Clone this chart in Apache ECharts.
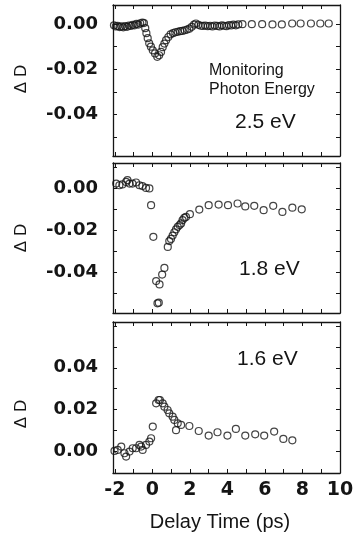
<!DOCTYPE html>
<html>
<head>
<meta charset="utf-8">
<script src="https://cdn.jsdelivr.net/npm/echarts@6/dist/echarts.min.js"></script>
<style>
  html, body { margin: 0; padding: 0; background: #fff; }
  #chart { width: 359px; height: 537px; }
</style>
</head>
<body>
<div id="chart"></div>
<script>
// delay time (ps) and ΔD for each monitoring photon energy
const t25 = [-2.05, -1.95, -1.85, -1.75, -1.65, -1.55, -1.45, -1.35, -1.25, -1.15, -1.05, -0.95, -0.85, -0.75, -0.65, -0.53, -0.45,
  -0.38, -0.32, -0.25, -0.17, -0.08, 0.02, 0.14, 0.26, 0.36, 0.46, 0.55, 0.64, 0.73, 0.85, 0.97, 1.10, 1.22, 1.35, 1.48, 1.60,
  1.72, 1.85, 1.97, 2.10, 2.22, 2.32, 2.45, 2.58, 2.70, 2.82, 2.95, 3.08, 3.20, 3.32, 3.45, 3.58, 3.70, 3.82, 3.95, 4.08, 4.20,
  4.32, 4.45, 4.58, 4.8, 5.3, 5.85, 6.4, 6.9, 7.45, 7.9, 8.45, 8.95, 9.4]
const d25 = [-0.0005, -0.0010, -0.0008, -0.0013, -0.0010, -0.0014, -0.0009, -0.0012, -0.0006, -0.0008, -0.0003, -0.0005, 0.0001, -0.0002, 0.0004, 0.0007, 0.0005,
  -0.0018, -0.0040, -0.0062, -0.0085, -0.0100, -0.0116, -0.0130, -0.0145, -0.0138, -0.0123, -0.0102, -0.0086, -0.0071, -0.0057, -0.0045, -0.0040, -0.0036, -0.0034, -0.0031, -0.0030,
  -0.0027, -0.0024, -0.0020, -0.0012, -0.0002, 0.0003, -0.0003, -0.0007, -0.0008, -0.0006, -0.0009, -0.0007, -0.0010, -0.0006, -0.0008, -0.0010, -0.0005, -0.0007, -0.0009, -0.0004, -0.0006,
  -0.0002, -0.0005, -0.0001, 0.0000, 0.0000, 0.0000, -0.0001, -0.0001, 0.0003, 0.0003, 0.0003, 0.0003, 0.0003]

const t18 = [-2.11, -1.93, -1.76, -1.6, -1.4, -1.33, -1.22, -1.06, -0.87, -0.69, -0.53, -0.34, -0.16, -0.07, 0.05,
  0.2, 0.27, 0.34, 0.38, 0.52, 0.64, 0.82, 0.9, 0.99, 1.08, 1.17, 1.26, 1.35, 1.45, 1.53, 1.61, 1.70, 1.79, 2.0,
  2.5, 3.0, 3.53, 4.03, 4.54, 4.95, 5.43, 5.93, 6.44, 6.93, 7.46, 7.96]
const d18 = [0.0030, 0.0022, 0.0014, 0.0018, 0.0030, 0.0038, 0.0022, 0.0022, 0.0027, 0.0014, 0.0010, 0.0001, -0.0001, -0.0081, -0.0232,
  -0.0443, -0.0549, -0.0546, -0.0459, -0.0412, -0.0380, -0.0280, -0.0252, -0.0242, -0.0226, -0.0210, -0.0196, -0.0184, -0.0176, -0.0168, -0.0152, -0.0142, -0.0137, -0.0124,
  -0.0102, -0.0081, -0.0078, -0.0081, -0.0073, -0.0087, -0.0084, -0.0105, -0.0084, -0.0113, -0.0093, -0.0101]

const t16 = [-2.02, -1.85, -1.66, -1.49, -1.40, -1.22, -1.05, -0.87, -0.69, -0.60, -0.52, -0.34, -0.16, -0.07, 0.02,
  0.2, 0.33, 0.4, 0.55, 0.64, 0.81, 0.9, 1.08, 1.17, 1.26, 1.35, 1.53, 1.97, 2.47, 3.0, 3.47, 4.0, 4.45, 4.95, 5.48,
  5.96, 6.49, 6.98, 7.46]
const d16 = [0.0000, 0.0005, 0.0021, -0.0011, -0.0027, -0.0003, 0.0013, 0.0013, 0.0029, 0.0021, 0.0005, 0.0029, 0.0045, 0.0061, 0.0117,
  0.0229, 0.0245, 0.0245, 0.0229, 0.0213, 0.0197, 0.0181, 0.0165, 0.0149, 0.0100, 0.0133, 0.0125, 0.0120, 0.0096, 0.0074, 0.0090, 0.0074, 0.0106, 0.0074, 0.0080,
  0.0074, 0.0093, 0.0058, 0.0051]

const labels = ['2.5 eV', '1.8 eV', '1.6 eV']
const xTicks = [-2, -1, 0, 1, 2, 3, 4, 5, 6, 7, 8, 9, 10]
const xLabels = [-2, 0, 2, 4, 6, 8, 10]
const yTicks = [
  [-0.05, -0.04, -0.03, -0.02, -0.01, 0],
  [-0.05, -0.04, -0.03, -0.02, -0.01, 0, 0.01],
  [0, 0.01, 0.02, 0.03, 0.04, 0.05, 0.06],
]
const yLabels = [
  [-0.04, -0.02, 0],
  [-0.04, -0.02, 0],
  [0, 0.02, 0.04],
]
const yRanges = [[-0.0585, 0.0085], [-0.0595, 0.012], [-0.0106, 0.062]]

const panels = [[t25, d25], [t18, d18], [t16, d16]]
const gridTops = [5, 163, 322]
const gridHeights = [151, 150, 151]

const ink = '#151515'
const lineStyle = { color: ink, width: 1.3 }

const grid = gridTops.map((top, i) => ({ left: 113, width: 227, top, height: gridHeights[i] }))

const xAxis = []
const yAxis = []
grid.forEach((g, i) => {
  ;['bottom', 'top'].forEach((pos) => {
    xAxis.push({
      type: 'value',
      gridIndex: i,
      position: pos,
      min: -2.1,
      max: 10,
      axisLine: { show: true, onZero: false, lineStyle },
      axisTick: { show: true, inside: true, length: 4, customValues: xTicks, lineStyle: { color: ink, width: 1 } },
      axisLabel: {
        show: i === 2 && pos === 'bottom',
        customValues: xLabels,
        margin: 8,
        fontFamily: 'DejaVu Sans',
        fontWeight: 'bold',
        fontSize: 19,
        color: ink,
      },
      splitLine: { show: false },
    })
  })
  ;['left', 'right'].forEach((pos) => {
    yAxis.push({
      type: 'value',
      gridIndex: i,
      position: pos,
      min: yRanges[i][0],
      max: yRanges[i][1],
      axisLine: { show: true, onZero: false, lineStyle },
      axisTick: { show: true, inside: true, length: 4, customValues: yTicks[i], lineStyle: { color: ink, width: 1 } },
      axisLabel: {
        show: pos === 'left',
        customValues: yLabels[i],
        margin: 15,
        fontFamily: 'DejaVu Sans',
        fontWeight: 'bold',
        fontSize: 18,
        color: ink,
        formatter: (v) => (Math.abs(v) < 1e-9 ? '0.00' : v.toFixed(2)),
      },
      splitLine: { show: false },
    })
  })
})

const series = panels.map(([t, d], i) => ({
  name: labels[i],
  type: 'scatter',
  xAxisIndex: 2 * i,
  yAxisIndex: 2 * i,
  symbol: 'circle',
  symbolSize: 7,
  itemStyle: { color: 'rgba(255,255,255,0)', borderColor: ink, borderWidth: 1.2 },
  data: t.map((x, k) => [x, d[k]]),
}))

const textFont = (size) => `${size}px "Liberation Sans", Arial, sans-serif`
const text = (x, y, str, size, extra = {}) => ({
  type: 'text',
  x,
  y,
  silent: true,
  ...extra,
  style: { text: str, font: textFont(size), fill: ink, textAlign: 'left', textVerticalAlign: 'middle', ...(extra.style || {}) },
})

const graphic = [
  text(209, 71, 'Monitoring', 16),
  text(209, 90, 'Photon Energy', 16),
  text(235, 122, labels[0], 21),
  text(239, 269, labels[1], 21),
  text(237, 359, labels[2], 21),
  text(220, 522, 'Delay Time (ps)', 20, { style: { textAlign: 'center' } }),
  text(21, 79, 'Δ D', 17, { rotation: Math.PI / 2, style: { textAlign: 'center' } }),
  text(21, 238, 'Δ D', 17, { rotation: Math.PI / 2, style: { textAlign: 'center' } }),
  text(21, 414, 'Δ D', 17, { rotation: Math.PI / 2, style: { textAlign: 'center' } }),
]

const chart = echarts.init(document.getElementById('chart'))
chart.setOption({
  animation: false,
  backgroundColor: '#fff',
  grid,
  xAxis,
  yAxis,
  series,
  graphic,
})
</script>
</body>
</html>
